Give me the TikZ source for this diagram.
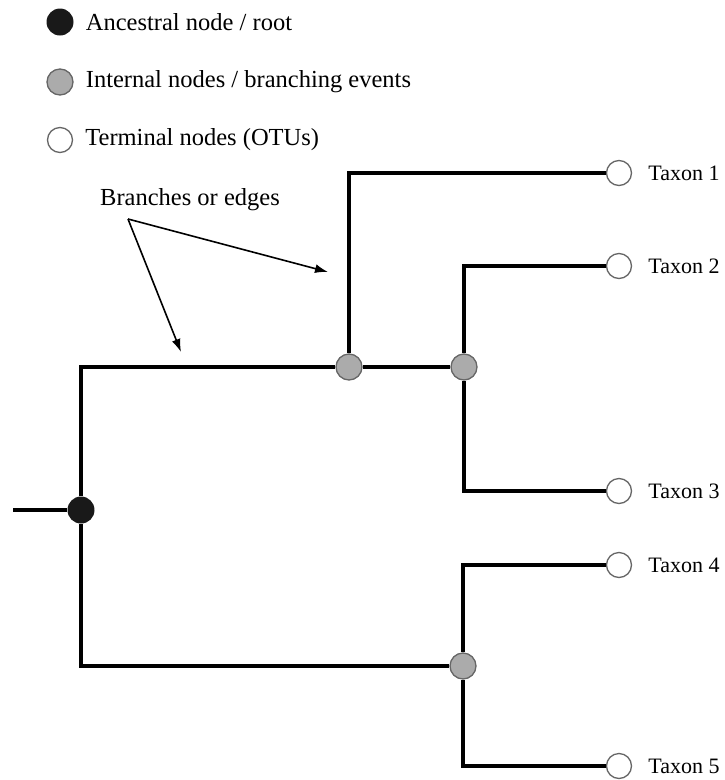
\documentclass[tikz,border=0pt]{standalone}
\usepackage{fontspec}
\setmainfont{Liberation Serif}
\usetikzlibrary{positioning, arrows.meta}

\begin{document}
\begin{tikzpicture}[x=1pt, y=-1pt,
  tip/.style={circle, draw=black!60, fill=white, line width=1.3pt, minimum size=25pt, inner sep=0pt},
  inner/.style={circle, draw=black!60, fill=black!33, line width=1.3pt, minimum size=26pt, inner sep=0pt},
  root/.style={circle, fill=black!90, minimum size=27pt, inner sep=0pt},
  branch/.style={line width=3.3pt},
  pointer/.style={line width=1.6pt, -{Latex[length=13pt, width=9pt]}},
  legtext/.style={anchor=west, inner sep=0pt, font=\fontsize{24.5}{28}\selectfont},
  taxtext/.style={anchor=west, inner sep=0pt, font=\fontsize{22}{26}\selectfont}]
\useasboundingbox (0,0) rectangle (725,780);

% legend
\node[root] (lroot) at (60,22) {};
\node[legtext, right=12pt of lroot] {Ancestral node / root};
\node[inner] (linner) at (60,82) {};
\node[legtext, right=12pt of linner] {Internal nodes / branching events};
\node[tip] (ltip) at (60,140) {};
\node[legtext, right=12pt of ltip] {Terminal nodes (OTUs)};

% tree nodes
\coordinate (stub) at (13,510);
\node[root] (root) at (81,510) {};
\node[inner] (a) at (349,367) {};
\node[inner] (b) at (464,367) {};
\node[inner] (c) at (463,666) {};
\node[tip] (t1) at (619,173) {};
\node[tip] (t2) at (619,266) {};
\node[tip] (t3) at (619,491) {};
\node[tip] (t4) at (619,565) {};
\node[tip] (t5) at (619,766) {};

% branches
\draw[branch] (stub) -- (root);
\draw[branch] (root) |- (a);
\draw[branch] (root) |- (c);
\draw[branch] (a) -- (b);
\draw[branch] (a) |- (t1);
\draw[branch] (b) |- (t2);
\draw[branch] (b) |- (t3);
\draw[branch] (c) |- (t4);
\draw[branch] (c) |- (t5);

% taxon labels
\node[taxtext, right=16pt of t1] {Taxon 1};
\node[taxtext, right=16pt of t2] {Taxon 2};
\node[taxtext, right=16pt of t3] {Taxon 3};
\node[taxtext, right=16pt of t4] {Taxon 4};
\node[taxtext, right=16pt of t5] {Taxon 5};

% branch label with arrows
\node[legtext] (blabel) at (100,200) {Branches or edges};
\coordinate (bfoot) at (128,219);
\coordinate (e1) at (328,272);
\coordinate (e2) at (181,352);
\draw[pointer] (bfoot) -- (e1);
\draw[pointer] (bfoot) -- (e2);
\end{tikzpicture}
\end{document}
